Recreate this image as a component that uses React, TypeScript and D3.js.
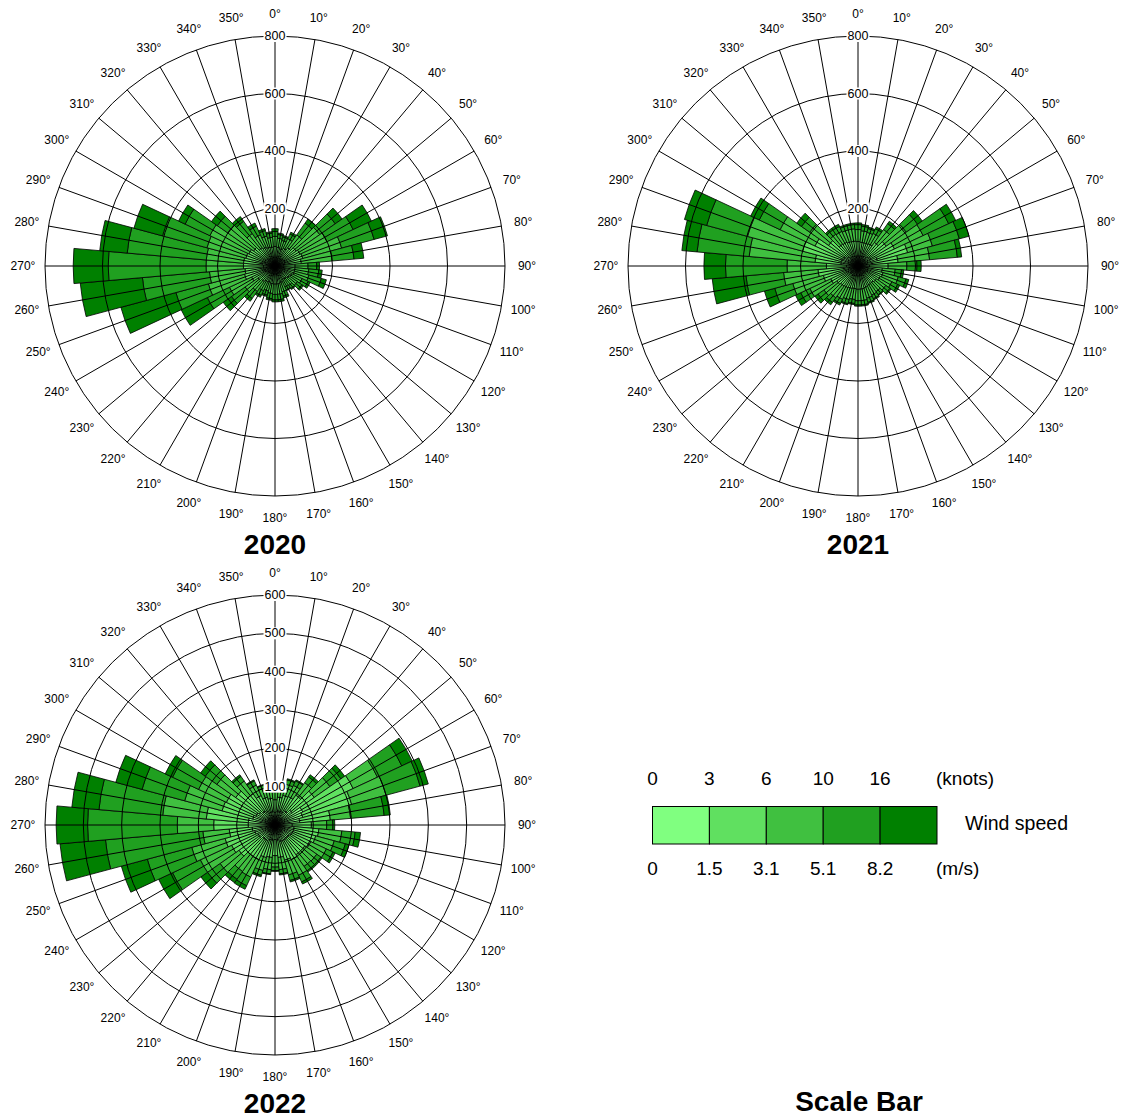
import React from "react";
import * as d3 from "d3";

// ---------- categories ----------
const directions = [0, 10, 20, 30, 40, 50, 60, 70, 80, 90, 100, 110, 120, 130, 140, 150, 160, 170,
  180, 190, 200, 210, 220, 230, 240, 250, 260, 270, 280, 290, 300, 310, 320, 330, 340, 350];
const knotsLabels = ["0", "3", "6", "10", "16"];
const msLabels = ["0", "1.5", "3.1", "5.1", "8.2"];
const binColors = ["#80FF80", "#60E060", "#40C040", "#20A020", "#008000"];

// ---------- 2020 (counts per speed bin, by direction) ----------
const y2020_b1 = [30, 30, 28, 30, 32, 34, 36, 38, 34, 30, 30, 30, 28, 27, 25, 25, 27, 28, 28, 28, 27, 27, 28, 30, 35, 40, 40, 40, 45, 40, 38, 36, 32, 30, 30, 30];
const y2020_b2 = [38, 35, 34, 38, 45, 56, 60, 62, 58, 40, 40, 40, 36, 33, 30, 28, 33, 35, 35, 34, 32, 33, 38, 42, 55, 70, 65, 70, 65, 65, 62, 55, 46, 42, 38, 36];
const y2020_b3 = [35, 32, 30, 37, 55, 100, 104, 140, 108, 45, 48, 52, 40, 35, 28, 27, 33, 36, 36, 34, 31, 35, 42, 55, 85, 130, 124, 130, 130, 140, 150, 110, 60, 48, 40, 34];
const y2020_b4 = [17, 13, 13, 18, 50, 66, 100, 117, 76, 30, 35, 45, 23, 19, 13, 12, 16, 19, 19, 18, 15, 18, 30, 58, 85, 117, 234, 340, 276, 160, 95, 44, 52, 33, 20, 15];
const y2020_b5 = [10, 5, 5, 7, 18, 29, 70, 48, 34, 10, 12, 18, 8, 6, 4, 3, 6, 7, 7, 6, 5, 7, 12, 35, 100, 198, 217, 122, 96, 103, 25, 25, 20, 12, 7, 5];

// ---------- 2021 ----------
const y2021_b1 = [35, 35, 35, 35, 40, 45, 50, 70, 50, 40, 35, 35, 35, 33, 32, 32, 33, 35, 35, 34, 35, 35, 35, 35, 40, 45, 50, 40, 60, 60, 55, 45, 38, 37, 36, 35];
const y2021_b2 = [50, 48, 48, 50, 60, 75, 90, 109, 90, 65, 50, 55, 50, 45, 42, 43, 45, 46, 46, 45, 46, 48, 50, 55, 65, 80, 90, 70, 90, 140, 110, 80, 55, 54, 52, 52];
const y2021_b3 = [42, 40, 38, 40, 55, 85, 110, 89, 110, 65, 45, 55, 45, 40, 35, 37, 38, 40, 40, 38, 40, 45, 50, 55, 80, 110, 120, 137, 230, 198, 134, 80, 42, 42, 42, 43];
const y2021_b4 = [17, 16, 14, 18, 25, 48, 98, 97, 97, 35, 22, 28, 22, 17, 13, 14, 15, 15, 15, 14, 15, 16, 20, 25, 35, 65, 131, 214, 182, 147, 80, 35, 18, 19, 15, 15];
const y2021_b5 = [6, 6, 5, 7, 10, 20, 27, 35, 15, 15, 8, 10, 8, 5, 3, 4, 4, 4, 4, 4, 4, 6, 10, 13, 20, 37, 118, 75, 53, 80, 33, 20, 7, 8, 5, 5];

// ---------- 2022 ----------
const y2022_b1 = [33, 35, 38, 38, 45, 55, 80, 75, 65, 45, 50, 50, 48, 45, 44, 45, 45, 40, 38, 40, 40, 45, 45, 50, 50, 55, 60, 70, 70, 60, 55, 50, 45, 40, 35, 35];
const y2022_b2 = [33, 38, 42, 44, 50, 70, 145, 132, 80, 50, 65, 60, 55, 50, 51, 55, 50, 45, 42, 45, 48, 55, 55, 65, 75, 80, 60, 90, 110, 83, 85, 75, 55, 45, 40, 35];
const y2022_b3 = [21, 26, 30, 32, 40, 50, 70, 93, 53, 40, 60, 50, 45, 38, 37, 45, 40, 32, 30, 32, 35, 50, 48, 60, 90, 90, 69, 95, 114, 101, 80, 60, 40, 30, 25, 22];
const y2022_b4 = [6, 9, 12, 13, 18, 35, 70, 92, 88, 16, 35, 30, 19, 13, 14, 19, 15, 11, 9, 11, 13, 25, 25, 40, 80, 120, 255, 234, 167, 115, 75, 37, 15, 12, 8, 6];
const y2022_b5 = [2, 2, 3, 3, 7, 12, 30, 22, 16, 5, 14, 10, 6, 4, 4, 6, 4, 3, 2, 2, 4, 10, 11, 21, 40, 70, 119, 82, 71, 71, 21, 15, 5, 3, 2, 2];

const ticks800 = [200, 400, 600, 800];
const ticks600 = [100, 200, 300, 400, 500, 600];

const FONT = "'Liberation Sans', Arial, Helvetica, sans-serif";
const R = 230;

type RoseProps = {
  cx: number;
  cy: number;
  bins: number[][];
  max: number;
  ticks: number[];
  title: string;
};

function WindRose({ cx, cy, bins, max, ticks, title }: RoseProps) {
  const r = d3.scaleLinear().domain([0, max]).range([0, R]);
  const arc = d3.arc<any>();
  const toRad = (deg: number) => (deg * Math.PI) / 180;
  const segments: { d: string; fill: string; key: string }[] = [];
  directions.forEach((dir, i) => {
    let acc = 0;
    bins.forEach((bin, k) => {
      const inner = acc;
      acc += bin[i];
      segments.push({
        key: `${dir}-${k}`,
        fill: binColors[k],
        d: arc({
          innerRadius: r(inner),
          outerRadius: r(acc),
          startAngle: toRad(dir - 5),
          endAngle: toRad(dir + 5),
        }) as string,
      });
    });
  });
  const labelR = 252;
  return (
    <g transform={`translate(${cx},${cy})`}>
      {segments.map((s) => (
        <path key={s.key} d={s.d} fill={s.fill} stroke="#000" strokeWidth={0.8} />
      ))}
      {ticks.map((t) => (
        <circle key={t} r={r(t)} fill="none" stroke="#000" strokeWidth={1} />
      ))}
      {directions.map((dir) => (
        <line
          key={`sp${dir}`}
          x1={0}
          y1={0}
          x2={R * Math.sin(toRad(dir))}
          y2={-R * Math.cos(toRad(dir))}
          stroke="#000"
          strokeWidth={1}
        />
      ))}
      {directions.map((dir) => (
        <text
          key={`lb${dir}`}
          x={labelR * Math.sin(toRad(dir))}
          y={-labelR * Math.cos(toRad(dir))}
          textAnchor="middle"
          dominantBaseline="central"
          fontFamily={FONT}
          fontSize={12}
          fill="#000"
        >
          {`${dir}°`}
        </text>
      ))}
      {ticks.map((t) => {
        const w = String(t).length * 7 + 2;
        return (
          <g key={`tv${t}`} transform={`translate(0,${-r(t)})`}>
            <rect x={-w / 2} y={-6} width={w} height={12} fill="#fff" />
            <text
              textAnchor="middle"
              dominantBaseline="central"
              fontFamily={FONT}
              fontSize={12.5}
              fill="#000"
            >
              {t}
            </text>
          </g>
        );
      })}
      <text
        y={278}
        textAnchor="middle"
        dominantBaseline="central"
        fontFamily={FONT}
        fontSize={28}
        fontWeight="bold"
        fill="#000"
      >
        {title}
      </text>
    </g>
  );
}

function Legend() {
  const x = d3.scaleLinear().domain([0, 5]).range([652.5, 937]);
  const y0 = 806.5;
  const h = 37.5;
  return (
    <g fontFamily={FONT} fill="#000">
      {binColors.map((c, i) => (
        <rect key={c} x={x(i)} y={y0} width={x(i + 1) - x(i)} height={h} fill={c} stroke="#000" strokeWidth={1} />
      ))}
      {knotsLabels.map((l, i) => (
        <text key={`k${i}`} x={x(i)} y={778} textAnchor="middle" dominantBaseline="central" fontSize={19}>
          {l}
        </text>
      ))}
      <text x={936} y={778} dominantBaseline="central" fontSize={19}>(knots)</text>
      {msLabels.map((l, i) => (
        <text key={`m${i}`} x={x(i)} y={868} textAnchor="middle" dominantBaseline="central" fontSize={19}>
          {l}
        </text>
      ))}
      <text x={936} y={868} dominantBaseline="central" fontSize={19}>(m/s)</text>
      <text x={965} y={823} dominantBaseline="central" fontSize={19.5}>Wind speed</text>
      <text x={859} y={1101} textAnchor="middle" dominantBaseline="central" fontSize={28} fontWeight="bold">
        Scale Bar
      </text>
    </g>
  );
}

export default function App() {
  return (
    <svg
      width={1130}
      height={1117}
      style={{ position: "absolute", left: 0, top: 0, background: "#fff" }}
    >
      <rect width={1130} height={1117} fill="#fff" />
      <WindRose cx={275} cy={266} bins={[y2020_b1, y2020_b2, y2020_b3, y2020_b4, y2020_b5]} max={800} ticks={ticks800} title="2020" />
      <WindRose cx={858} cy={266} bins={[y2021_b1, y2021_b2, y2021_b3, y2021_b4, y2021_b5]} max={800} ticks={ticks800} title="2021" />
      <WindRose cx={275} cy={825} bins={[y2022_b1, y2022_b2, y2022_b3, y2022_b4, y2022_b5]} max={600} ticks={ticks600} title="2022" />
      <Legend />
    </svg>
  );
}
